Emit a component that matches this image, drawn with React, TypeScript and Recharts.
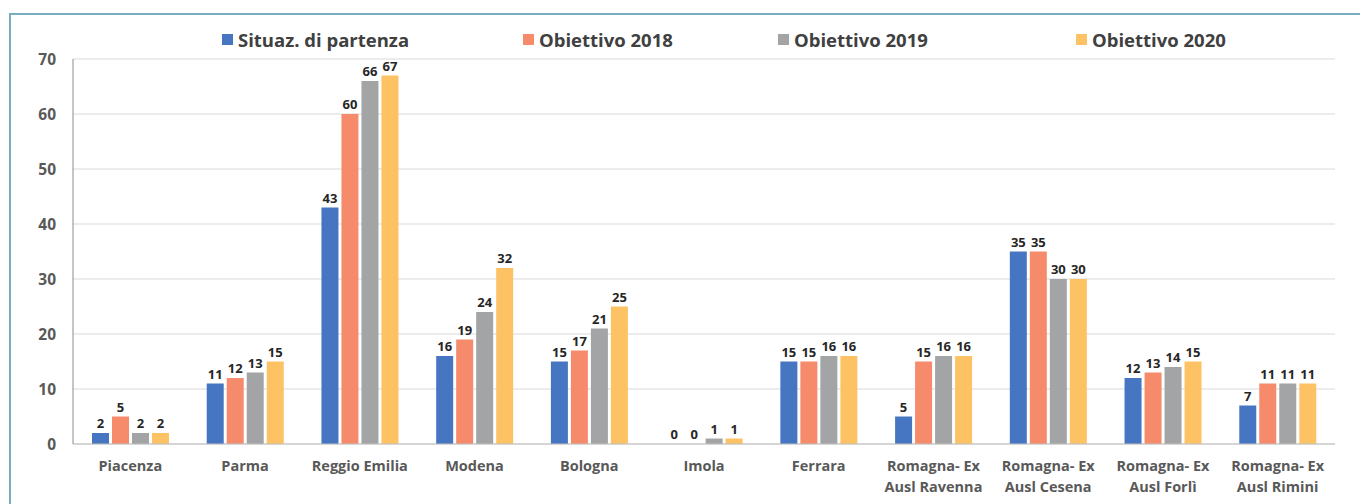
import { Bar, BarChart, CartesianGrid, LabelList, XAxis, YAxis } from 'recharts'

const categories = [
  'Piacenza',
  'Parma',
  'Reggio Emilia',
  'Modena',
  'Bologna',
  'Imola',
  'Ferrara',
  'Romagna- Ex\nAusl Ravenna',
  'Romagna- Ex\nAusl Cesena',
  'Romagna- Ex\nAusl Forlì',
  'Romagna- Ex\nAusl Rimini',
]

const situazione = [2, 11, 43, 16, 15, 0, 15, 5, 35, 12, 7]
const obiettivo2018 = [5, 12, 60, 19, 17, 0, 15, 15, 35, 13, 11]
const obiettivo2019 = [2, 13, 66, 24, 21, 1, 16, 16, 30, 14, 11]
const obiettivo2020 = [2, 15, 67, 32, 25, 1, 16, 16, 30, 15, 11]

const yTicks = [0, 10, 20, 30, 40, 50, 60, 70]

const series = [
  { key: 's', name: 'Situaz. di partenza', color: '#4675c2' },
  { key: 'o18', name: 'Obiettivo 2018', color: '#f68b6b' },
  { key: 'o19', name: 'Obiettivo 2019', color: '#a3a4a6' },
  { key: 'o20', name: 'Obiettivo 2020', color: '#fdc264' },
]

const data = categories.map((c, i) => ({
  name: c,
  s: situazione[i],
  o18: obiettivo2018[i],
  o19: obiettivo2019[i],
  o20: obiettivo2020[i],
}))

const FONT = '"Open Sans", "Liberation Sans", sans-serif'

function CatTick({ x, y, payload }: any) {
  const lines = String(payload.value).split('\n')
  return (
    <text
      x={x}
      y={y + 19}
      textAnchor="middle"
      fill="#595959"
      fontSize={14.5}
      fontWeight={700}
      fontFamily={FONT}
    >
      {lines.map((l, i) => (
        <tspan key={i} x={x} dy={i === 0 ? 0 : 21}>
          {l}
        </tspan>
      ))}
    </text>
  )
}

// legend item widths, picked to spread like the original
const legendWidths = [301, 255, 298, 200]

export default function App() {
  return (
    <div
      style={{
        position: 'absolute',
        left: 0,
        top: 0,
        width: 1360,
        height: 504,
        overflow: 'hidden',
        background: '#fff',
      }}
    >
      <div
        style={{
          position: 'absolute',
          left: 9,
          top: 13,
          width: 1351,
          height: 491,
          borderTop: '2px solid #78aebf',
          borderLeft: '2px solid #78aebf',
        }}
      />
      <div
        style={{
          position: 'absolute',
          left: 222,
          top: 27,
          display: 'flex',
          fontFamily: FONT,
          fontWeight: 700,
          fontSize: 18.5,
          color: '#404040',
        }}
      >
        {series.map((s, i) => (
          <div key={s.key} style={{ width: legendWidths[i], display: 'flex', alignItems: 'center' }}>
            <span
              style={{
                display: 'inline-block',
                width: 11,
                height: 11,
                background: s.color,
                marginRight: 5,
              }}
            />
            {s.name}
          </div>
        ))}
      </div>
      <BarChart
        width={1360}
        height={504}
        data={data}
        margin={{ top: 59, right: 25, bottom: 0, left: 0 }}
        barSize={17}
        barGap={3}
        style={{ position: 'absolute', left: 0, top: 0 }}
      >
        <CartesianGrid stroke="#d9d9d9" vertical={false} />
        <XAxis
          dataKey="name"
          interval={0}
          height={60}
          tick={<CatTick />}
          tickLine={false}
          axisLine={{ stroke: '#bfbfbf' }}
        />
        <XAxis
          xAxisId="top"
          orientation="top"
          dataKey="name"
          height={0}
          tick={false}
          tickLine={false}
          axisLine={{ stroke: '#8c8c8c' }}
        />
        <YAxis
          domain={[0, 70]}
          ticks={yTicks}
          width={73}
          tickLine={false}
          axisLine={{ stroke: '#8c8c8c' }}
          tick={{ fill: '#595959', fontSize: 15.5, fontWeight: 700, fontFamily: FONT, dx: -9 }}
        />
        <YAxis
          yAxisId="right"
          orientation="right"
          domain={[0, 70]}
          width={0}
          tick={false}
          tickLine={false}
          axisLine={{ stroke: '#8c8c8c' }}
        />
        {series.map((s) => (
          <Bar
            key={s.key}
            dataKey={s.key}
            name={s.name}
            fill={s.color}
            minPointSize={0.01}
            isAnimationActive={false}
          >
            <LabelList
              dataKey={s.key}
              position="top"
              offset={5}
              fill="#262626"
              fontSize={13}
              fontWeight={700}
              fontFamily={FONT}
            />
          </Bar>
        ))}
      </BarChart>
    </div>
  )
}
